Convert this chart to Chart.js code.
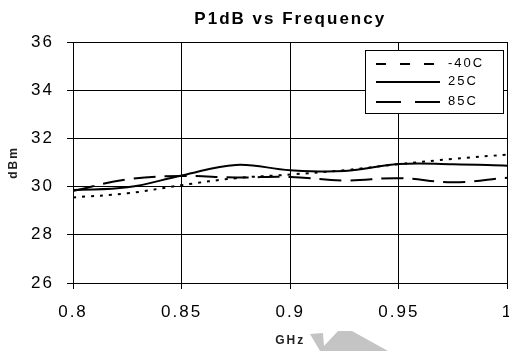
<!DOCTYPE html>
<html>
<head>
<meta charset="utf-8">
<script src="https://cdn.jsdelivr.net/npm/chart.js@4"></script>
<style>
  html, body { margin: 0; padding: 0; background: #fff; overflow: hidden; }
</style>
</head>
<body>
<canvas id="p1db-chart" width="509" height="351"></canvas>
<script>
// datos
const frecuencias = [0.8, 0.825, 0.85, 0.875, 0.9, 0.925, 0.95, 0.975, 1.0]
const menos40C = [29.55, 29.72, 30.06, 30.35, 30.5, 30.68, 30.93, 31.15, 31.33]
const temp25C = [29.86, 29.97, 30.46, 30.9, 30.68, 30.65, 30.94, 30.93, 30.87]
const temp85C = [29.82, 30.3, 30.44, 30.38, 30.4, 30.25, 30.35, 30.18, 30.37]
const seriesLabels = ["-40C", "25C", "85C"]
const xTickLabels = ["0.8", "0.85", "0.9", "0.95", "1"]
const yTickLabels = ["26", "28", "30", "32", "34", "36"]

const fuente = "'Liberation Sans', Arial, sans-serif"
const toPoints = (ys) => ys.map((y, i) => ({ x: frecuencias[i], y: y }))

//* espaciado de letras como en la imagen original
const espaciado = {
  id: "espaciado",
  beforeUpdate(chart) { chart.ctx.letterSpacing = "2px" },
  beforeDraw(chart) { chart.ctx.letterSpacing = "2px" },
}

//* leyenda dentro del area, con caja blanca
const leyenda = {
  id: "leyendaCaja",
  afterDraw(chart) {
    const ctx = chart.ctx
    ctx.save()
    ctx.letterSpacing = "2px"
    ctx.fillStyle = "#fff"
    ctx.fillRect(365, 50, 138, 63)
    ctx.strokeStyle = "#000"
    ctx.lineWidth = 1
    ctx.strokeRect(365.5, 50.5, 138, 63)
    const filas = [64, 82, 102]
    const patrones = [[10, 14], [], [25, 14]]
    chart.data.datasets.forEach((ds, i) => {
      ctx.beginPath()
      ctx.setLineDash(patrones[i])
      ctx.lineWidth = 2
      ctx.moveTo(376, filas[i])
      ctx.lineTo(440, filas[i])
      ctx.stroke()
      ctx.setLineDash([])
      ctx.fillStyle = "#000"
      ctx.font = "13px " + fuente
      ctx.textBaseline = "middle"
      ctx.textAlign = "left"
      ctx.fillText(ds.label, 448, filas[i] - 1)
    })
    ctx.restore()
  },
}

//* marca gris bajo el eje
const marcaGris = {
  id: "marcaGris",
  beforeDraw(chart) {
    const ctx = chart.ctx
    ctx.save()
    ctx.fillStyle = "#c4c4c4"
    ctx.beginPath()
    ctx.moveTo(310, 334)
    ctx.lineTo(323, 333)
    ctx.lineTo(324, 346)
    ctx.lineTo(338, 331)
    ctx.lineTo(352, 331)
    ctx.lineTo(388, 351)
    ctx.lineTo(320, 351)
    ctx.closePath()
    ctx.fill()
    ctx.restore()
  },
}

const contenedor = document.querySelector("#p1db-chart").getContext("2d")
const p1dbChart = new Chart(contenedor, {
  type: "line",
  data: {
    datasets: [
      {
        label: seriesLabels[0],
        data: toPoints(menos40C),
        borderColor: "#000",
        borderWidth: 2,
        borderDash: [3, 6],
      },
      {
        label: seriesLabels[1],
        data: toPoints(temp25C),
        borderColor: "#000",
        borderWidth: 2,
      },
      {
        label: seriesLabels[2],
        data: toPoints(temp85C),
        borderColor: "#000",
        borderWidth: 2,
        borderDash: [22, 9],
      },
    ],
  },
  options: {
    responsive: false,
    animation: false,
    devicePixelRatio: 1,
    layout: { padding: { left: 0, right: 1.5, top: 0, bottom: 0 } },
    elements: {
      point: { radius: 0 },
      line: { tension: 0.4, fill: false },
    },
    plugins: {
      legend: { display: false },
      tooltip: { enabled: false },
      title: {
        display: true,
        fullSize: false,
        text: "P1dB vs Frequency",
        color: "#000",
        font: { family: fuente, size: 17, weight: "bold" },
        padding: { top: 9, bottom: 12.6 },
      },
    },
    scales: {
      x: {
        type: "linear",
        min: 0.8,
        max: 1,
        afterFit(scale) {
          scale.height = 68
          scale.paddingRight = 0
        },
        ticks: {
          stepSize: 0.05,
          color: "#000",
          padding: 13,
          maxRotation: 0,
          font: { family: fuente, size: 17 },
          callback: (v, i) => xTickLabels[i],
        },
        grid: { color: "#000", lineWidth: 1, tickLength: 6 },
        border: { color: "#000", width: 1 },
        title: {
          display: true,
          text: "GHz",
          color: "#222",
          font: { family: fuente, size: 12, weight: "bold" },
          padding: { top: 0, bottom: 2.8 },
        },
      },
      y: {
        min: 26,
        max: 36,
        afterFit(scale) {
          scale.width = 73
        },
        ticks: {
          stepSize: 2,
          color: "#000",
          padding: 13,
          font: { family: fuente, size: 17 },
          callback: (v, i) => yTickLabels[i],
        },
        grid: { color: "#000", lineWidth: 1, tickLength: 6 },
        border: { color: "#000", width: 1 },
        title: {
          display: true,
          text: "dBm",
          color: "#222",
          font: { family: fuente, size: 12, weight: "bold" },
          padding: { top: 6.8, bottom: 0 },
        },
      },
    },
  },
  plugins: [espaciado, marcaGris, leyenda],
})
</script>
</body>
</html>
